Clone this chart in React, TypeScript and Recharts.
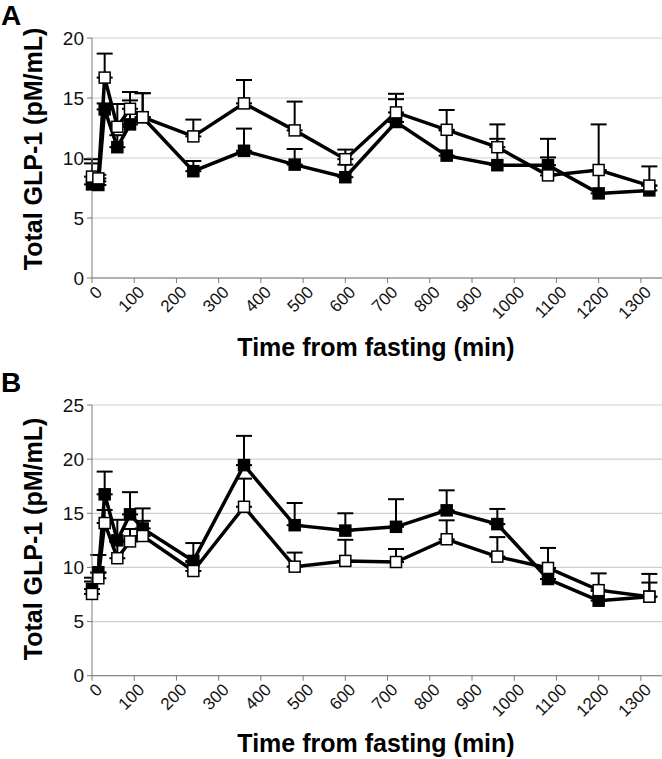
import { LineChart, Line, XAxis, YAxis, CartesianGrid, ErrorBar } from 'recharts';

// sampling times (min) and axis ticks
const times = [0, 15, 30, 60, 90, 120, 240, 360, 480, 600, 720, 840, 960, 1080, 1200, 1320];
const xTicks = [0, 100, 200, 300, 400, 500, 600, 700, 800, 900, 1000, 1100, 1200, 1300];
const yTicksA = [0, 5, 10, 15, 20];
const yTicksB = [0, 5, 10, 15, 20, 25];

// panel A
const aFilled = [7.8, 7.75, 14.05, 10.9, 12.8, 13.4, 8.9, 10.6, 9.45, 8.4, 13.0, 10.2, 9.4, 9.4, 7.05, 7.3];
const aFilledErr = [1.75, 0.3, 0.5, 1.0, 2.0, 2.0, 0.85, 1.85, 1.3, 1.05, 1.9, 2.1, 2.2, 2.2, 1.9, 0.4];
const aOpen = [8.45, 8.3, 16.7, 12.6, 14.1, 13.4, 11.8, 14.55, 12.3, 9.9, 13.8, 12.35, 10.9, 8.55, 9.0, 7.7];
const aOpenErr = [1.45, 0.3, 2.0, 1.9, 1.4, 2.0, 1.4, 1.95, 2.4, 0.8, 1.55, 1.65, 1.9, 1.5, 3.8, 1.6];

// panel B
const bFilled = [8.0, 9.55, 16.75, 12.5, 14.9, 13.6, 10.6, 19.45, 13.9, 13.4, 13.75, 15.27, 14.0, 8.93, 6.93, 7.3];
const bFilledErr = [1.05, 1.6, 2.1, 1.9, 2.05, 1.85, 1.65, 2.7, 2.05, 1.6, 2.55, 1.85, 1.4, 1.0, 0.9, 1.3];
const bOpen = [7.55, 9.0, 14.1, 10.85, 12.4, 12.9, 9.67, 15.6, 10.07, 10.6, 10.5, 12.6, 11.0, 9.95, 7.9, 7.3];
const bOpenErr = [1.15, 0.5, 1.2, 1.5, 1.15, 1.4, 0.8, 2.6, 1.3, 1.95, 1.2, 1.75, 1.8, 1.85, 1.55, 2.1];

const FONT = '"Liberation Sans", Arial, sans-serif';

const build = (filled: number[], filledErr: number[], open: number[], openErr: number[]) =>
  times.map((t, i) => ({
    t,
    filled: filled[i],
    filledErr: [0, filledErr[i]],
    open: open[i],
    openErr: [0, openErr[i]],
  }));

const dataA = build(aFilled, aFilledErr, aOpen, aOpenErr);
const dataB = build(bFilled, bFilledErr, bOpen, bOpenErr);

const XTick = (props: any) => {
  const { x, y, payload } = props;
  return (
    <g transform={`translate(${x + 7},${y + 6})`}>
      <text textAnchor="end" transform="rotate(-45)" dy="0.35em" fontSize={17} fill="#111" fontFamily={FONT}>
        {payload.value}
      </text>
    </g>
  );
};

const square = (fill: string) => (props: any) => {
  const { cx, cy, index } = props;
  return <rect key={`sq-${fill}-${index}`} x={cx - 5.5} y={cy - 5.5} width={11} height={11} fill={fill} stroke="#000" strokeWidth={1.5} />;
};

const Panel = ({ data, yMax, yTicks, height, top, axisH }: any) => (
  <LineChart width={662} height={height} data={data} margin={{ top, right: 0, bottom: 0, left: 0 }}>
    <CartesianGrid vertical={false} stroke="#cfcfcf" strokeWidth={1.2} />
    <XAxis
      dataKey="t"
      type="number"
      domain={[0, 1350]}
      ticks={xTicks}
      interval={0}
      height={axisH}
      stroke="#7a7a7a"
      tickSize={5}
      tickMargin={0}
      tick={<XTick />}
    />
    <YAxis
      domain={[0, yMax]}
      ticks={yTicks}
      width={92}
      stroke="#7a7a7a"
      tickSize={5}
      tickMargin={3}
      tick={{ fontSize: 19, fill: '#111', fontFamily: FONT }}
    />
    <Line dataKey="filled" stroke="#000" strokeWidth={3.5} dot={square('#000')} isAnimationActive={false}>
      <ErrorBar dataKey="filledErr" direction="y" width={8} stroke="#000" strokeWidth={2} />
    </Line>
    <Line dataKey="open" stroke="#000" strokeWidth={3.5} dot={square('#fff')} isAnimationActive={false}>
      <ErrorBar dataKey="openErr" direction="y" width={8} stroke="#000" strokeWidth={2} />
    </Line>
  </LineChart>
);

const titleStyle: any = { position: 'absolute', fontFamily: FONT, fontWeight: 'bold', fontSize: 25, whiteSpace: 'nowrap', color: '#000', lineHeight: '29px' };

export default function App() {
  return (
    <div style={{ position: 'absolute', left: 0, top: 0, width: 662, height: 759, background: '#fff', overflow: 'hidden' }}>
      <div style={{ position: 'absolute', left: 0, top: 0 }}>
        <Panel data={dataA} yMax={20} yTicks={yTicksA} height={380} top={38} axisH={102} />
      </div>
      <div style={{ position: 'absolute', left: 0, top: 370 }}>
        <Panel data={dataB} yMax={25} yTicks={yTicksB} height={389} top={35} axisH={83.3} />
      </div>
      <div style={{ ...titleStyle, left: 1, top: 0, fontSize: 28, lineHeight: '32px' }}>A</div>
      <div style={{ ...titleStyle, left: 1, top: 367, fontSize: 28, lineHeight: '32px' }}>B</div>
      <div style={{ ...titleStyle, left: 33, top: 149, transform: 'translate(-50%,-50%) rotate(-90deg)' }}>Total GLP-1 (pM/mL)</div>
      <div style={{ ...titleStyle, left: 33, top: 539, transform: 'translate(-50%,-50%) rotate(-90deg)' }}>Total GLP-1 (pM/mL)</div>
      <div style={{ ...titleStyle, left: 376, top: 333, transform: 'translateX(-50%)' }}>Time from fasting (min)</div>
      <div style={{ ...titleStyle, left: 376, top: 729, transform: 'translateX(-50%)' }}>Time from fasting (min)</div>
    </div>
  );
}
